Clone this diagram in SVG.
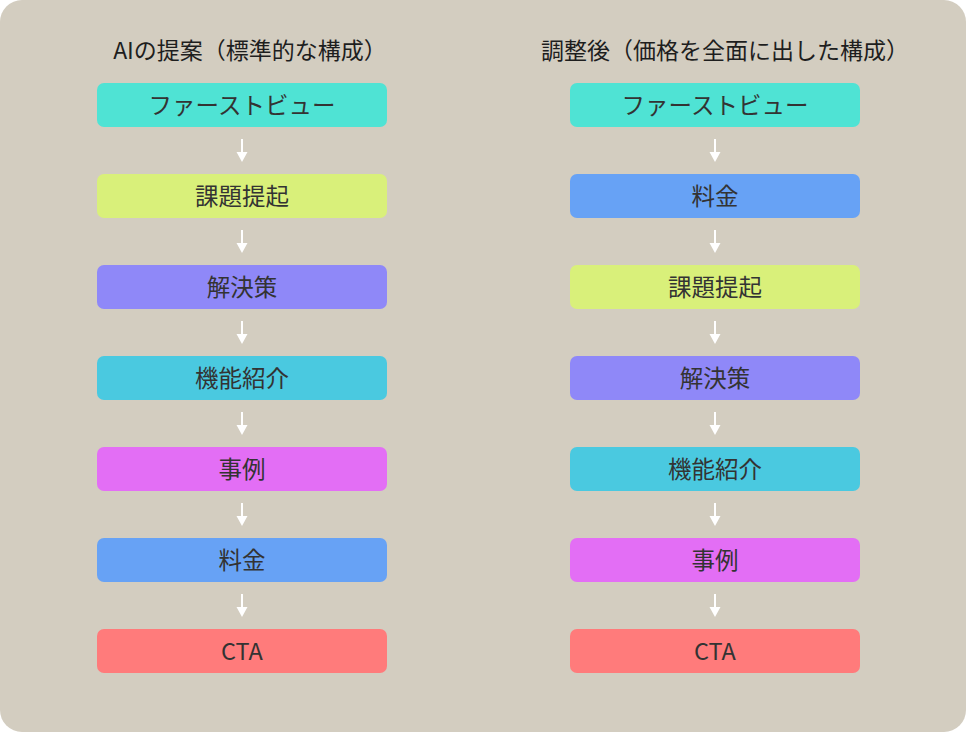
<svg xmlns="http://www.w3.org/2000/svg" width="966" height="732" viewBox="0 0 966 732">
<defs>
<style>
.bg{fill:#d3cdc0}
.lbl{font-family:"Noto Sans CJK JP","Noto Sans",sans-serif;font-size:23.5px;fill:#333;text-anchor:middle}
.ttl{font-family:"Noto Sans CJK JP","Noto Sans",sans-serif;font-size:23px;fill:#1e1e1e;text-anchor:middle}
.arr{stroke:#fff;stroke-width:2;fill:none}
.hd{fill:#fff}
</style>
</defs>
<rect class="bg" x="0" y="0" width="966" height="732" rx="22"/>
<text class="ttl" x="250" y="59">AIの提案（標準的な構成）</text>
<text class="ttl" x="725" y="59">調整後（価格を全面に出した構成）</text>
<g id="L1"><rect x="97" y="83" width="290" height="44" rx="7" fill="#4fe3d4"/><text class="lbl" x="242" y="113.5">ファーストビュー</text></g>
<g id="L2"><rect x="97" y="174" width="290" height="44" rx="7" fill="#d9f07a"/><text class="lbl" x="242" y="204.5">課題提起</text></g>
<g id="L3"><rect x="97" y="265" width="290" height="44" rx="7" fill="#8f88f8"/><text class="lbl" x="242" y="295.5">解決策</text></g>
<g id="L4"><rect x="97" y="356" width="290" height="44" rx="7" fill="#4ac9e0"/><text class="lbl" x="242" y="386.5">機能紹介</text></g>
<g id="L5"><rect x="97" y="447" width="290" height="44" rx="7" fill="#e36ef5"/><text class="lbl" x="242" y="477.5">事例</text></g>
<g id="L6"><rect x="97" y="538" width="290" height="44" rx="7" fill="#67a2f5"/><text class="lbl" x="242" y="568.5">料金</text></g>
<g id="L7"><rect x="97" y="629" width="290" height="44" rx="7" fill="#ff7b7b"/><text class="lbl" x="242" y="659.5">CTA</text></g>
<g id="R1"><rect x="570" y="83" width="290" height="44" rx="7" fill="#4fe3d4"/><text class="lbl" x="715" y="113.5">ファーストビュー</text></g>
<g id="R2"><rect x="570" y="174" width="290" height="44" rx="7" fill="#67a2f5"/><text class="lbl" x="715" y="204.5">料金</text></g>
<g id="R3"><rect x="570" y="265" width="290" height="44" rx="7" fill="#d9f07a"/><text class="lbl" x="715" y="295.5">課題提起</text></g>
<g id="R4"><rect x="570" y="356" width="290" height="44" rx="7" fill="#8f88f8"/><text class="lbl" x="715" y="386.5">解決策</text></g>
<g id="R5"><rect x="570" y="447" width="290" height="44" rx="7" fill="#4ac9e0"/><text class="lbl" x="715" y="477.5">機能紹介</text></g>
<g id="R6"><rect x="570" y="538" width="290" height="44" rx="7" fill="#e36ef5"/><text class="lbl" x="715" y="568.5">事例</text></g>
<g id="R7"><rect x="570" y="629" width="290" height="44" rx="7" fill="#ff7b7b"/><text class="lbl" x="715" y="659.5">CTA</text></g>
<g id="connectors">
<g transform="translate(242,0)">
<path class="arr" d="M0 139V153M0 230V244M0 321V335M0 412V426M0 503V517M0 594V608"/>
<path class="hd" d="M-5.5 152H5.5L0 162ZM-5.5 243H5.5L0 253ZM-5.5 334H5.5L0 344ZM-5.5 425H5.5L0 435ZM-5.5 516H5.5L0 526ZM-5.5 607H5.5L0 617Z"/>
</g>
<g transform="translate(715,0)">
<path class="arr" d="M0 139V153M0 230V244M0 321V335M0 412V426M0 503V517M0 594V608"/>
<path class="hd" d="M-5.5 152H5.5L0 162ZM-5.5 243H5.5L0 253ZM-5.5 334H5.5L0 344ZM-5.5 425H5.5L0 435ZM-5.5 516H5.5L0 526ZM-5.5 607H5.5L0 617Z"/>
</g>
</g>
</svg>
